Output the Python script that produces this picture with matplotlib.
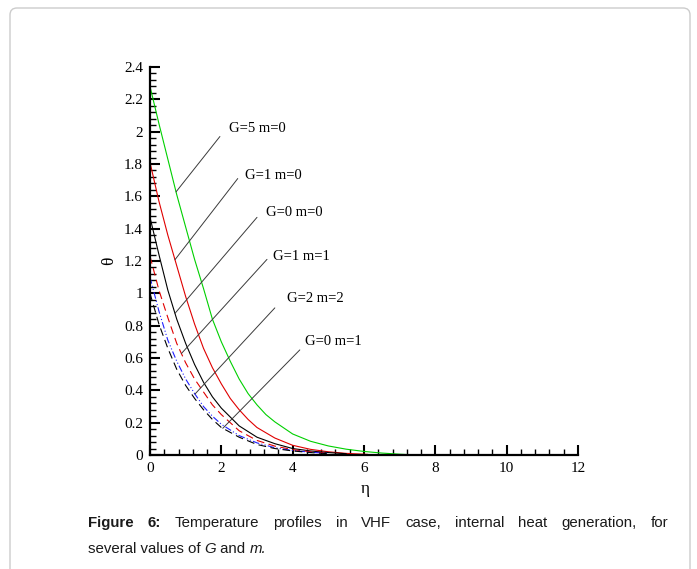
import numpy as np
import matplotlib
matplotlib.use('Agg')
import matplotlib.pyplot as plt
from matplotlib.ticker import MultipleLocator, FuncFormatter
from matplotlib.patches import FancyBboxPatch
from matplotlib.transforms import IdentityTransform

# values (eta, theta)
eta_g5m0 = [0, 0.25, 0.5, 0.75, 1, 1.25, 1.5, 1.75, 2, 2.25, 2.5, 2.75, 3, 3.25, 3.5, 4, 4.5, 5, 5.5, 6, 6.5, 7, 7.2]
theta_g5m0 = [2.28, 2.05, 1.83, 1.61, 1.41, 1.21, 1.03, 0.84, 0.70, 0.58, 0.47, 0.38, 0.31, 0.25, 0.205,
              0.13, 0.085, 0.056, 0.036, 0.022, 0.012, 0.005, 0.003]

eta_g1m0 = [0, 0.25, 0.5, 0.75, 1, 1.25, 1.5, 1.75, 2, 2.25, 2.5, 2.75, 3, 3.5, 4, 4.5, 5, 5.5, 6.1]
theta_g1m0 = [1.81, 1.57, 1.36, 1.17, 0.98, 0.81, 0.66, 0.54, 0.44, 0.35, 0.28, 0.22, 0.17, 0.105,
              0.06, 0.035, 0.02, 0.01, 0.004]

eta_g0m0 = [0, 0.25, 0.5, 0.75, 1, 1.25, 1.5, 1.75, 2, 2.5, 3, 3.5, 4, 4.5, 5, 5.5]
theta_g0m0 = [1.47, 1.24, 1.02, 0.84, 0.69, 0.56, 0.45, 0.36, 0.29, 0.18, 0.11, 0.07, 0.04, 0.025, 0.015, 0.008]

eta_g1m1 = [0, 0.25, 0.5, 0.75, 1, 1.25, 1.5, 1.75, 2, 2.5, 3, 3.5, 4, 4.5, 5]
theta_g1m1 = [1.23, 1.02, 0.85, 0.69, 0.57, 0.47, 0.39, 0.31, 0.25, 0.15, 0.09, 0.055, 0.033, 0.02, 0.012]

eta_g2m2 = [0, 0.25, 0.5, 0.75, 1, 1.25, 1.5, 1.75, 2, 2.5, 3, 3.5, 4, 4.5, 5]
theta_g2m2 = [1.10, 0.89, 0.71, 0.58, 0.47, 0.38, 0.30, 0.24, 0.19, 0.12, 0.075, 0.045, 0.028, 0.017, 0.01]

eta_g0m1 = [0, 0.25, 0.5, 0.75, 1, 1.25, 1.5, 1.75, 2, 2.5, 3, 3.5, 4, 4.5, 5]
theta_g0m1 = [1.00, 0.81, 0.66, 0.53, 0.43, 0.35, 0.28, 0.22, 0.17, 0.11, 0.065, 0.04, 0.025, 0.015, 0.008]

labels = ["G=5 m=0", "G=1 m=0", "G=0 m=0", "G=1 m=1", "G=2 m=2", "G=0 m=1"]

serif = "Liberation Serif"

fig = plt.figure(figsize=(6.97, 5.69), dpi=100)

# rounded frame around the figure
frame = FancyBboxPatch((10, -30), 680, 569 - 8 + 30, boxstyle="round,pad=0,rounding_size=7",
                       transform=IdentityTransform(), facecolor='none',
                       edgecolor='#cccccc', linewidth=1.0, zorder=-1)
fig.patches.append(frame)

ax = fig.add_axes([150 / 697, 1 - 455 / 569, 428 / 697, 388 / 569])
ax.set_facecolor('none')

curves = [
    (eta_g5m0, theta_g5m0, dict(color='#00d000', ls='-')),
    (eta_g1m0, theta_g1m0, dict(color='#e00000', ls='-')),
    (eta_g0m0, theta_g0m0, dict(color='black', ls='-')),
    (eta_g1m1, theta_g1m1, dict(color='#e00000', ls=(0, (7, 4)))),
    (eta_g2m2, theta_g2m2, dict(color='#2020ff', ls=(0, (6, 2, 1, 2, 1, 2)))),
    (eta_g0m1, theta_g0m1, dict(color='black', ls=(0, (7, 4)))),
]
for x, y, st in curves:
    ax.plot(x, y, lw=0.8, **st)

ax.set_xlim(0, 12)
ax.set_ylim(0, 2.4)
ax.spines['top'].set_visible(False)
ax.spines['right'].set_visible(False)
ax.spines['left'].set_linewidth(1.6)
ax.spines['bottom'].set_linewidth(1.6)
ax.xaxis.set_major_locator(MultipleLocator(2))
ax.xaxis.set_minor_locator(MultipleLocator(0.4))
ax.yaxis.set_major_locator(MultipleLocator(0.2))
ax.yaxis.set_minor_locator(MultipleLocator(0.04))
fmt = FuncFormatter(lambda v, p: f"{v:g}")
ax.xaxis.set_major_formatter(fmt)
ax.yaxis.set_major_formatter(fmt)
ax.tick_params(which='major', direction='in', length=7, width=1.5, labelsize=11, pad=5)
ax.tick_params(which='minor', direction='in', length=4, width=1.0)
for lab in ax.get_xticklabels() + ax.get_yticklabels():
    lab.set_fontfamily(serif)

ax.set_xlabel("η", fontfamily=serif, fontsize=12.5)
ax.set_ylabel("θ", fontfamily=serif, fontsize=12.5)
ax.xaxis.set_label_coords(0.502, -0.068)
ax.yaxis.set_label_coords(-0.077, 0.5)

# labels with leader lines
leader_at = [0.73, 0.70, 0.70, 0.88, 1.26, 2.04]
leader_from = [(1.96, 1.97), (2.46, 1.71), (3.0, 1.47), (3.28, 1.21), (3.5, 0.91), (4.2, 0.65)]
text_at = [(2.21, 2.02), (2.66, 1.73), (3.25, 1.50), (3.45, 1.23), (3.84, 0.965), (4.34, 0.70)]
for (x, y, st), lab, e, start, tpos in zip(curves, labels, leader_at, leader_from, text_at):
    end = (e, np.interp(e, x, y))
    ax.annotate('', xy=end, xytext=start,
                arrowprops=dict(arrowstyle='-', color='#3a3a3a', lw=0.7,
                                shrinkA=0, shrinkB=0))
    ax.text(tpos[0], tpos[1], lab, fontfamily=serif, fontsize=10.5, ha='left', va='center')

# caption (justified first line)
renderer = fig.canvas.get_renderer()
cap_left, cap_right = 88, 668
cap_size = 10.8
line1 = [("Figure", 'bold'), ("6:", 'bold'), ("Temperature", 'normal'), ("profiles", 'normal'),
         ("in", 'normal'), ("VHF", 'normal'), ("case,", 'normal'), ("internal", 'normal'),
         ("heat", 'normal'), ("generation,", 'normal'), ("for", 'normal')]
words = []
for w, wt in line1:
    t = fig.text(0, 1 - 523 / 569, w, fontfamily='Liberation Sans', fontweight=wt,
                 fontsize=cap_size, color='#1a1a1a', va='center', ha='left')
    words.append(t)
widths = [t.get_window_extent(renderer).width for t in words]
gap = (cap_right - cap_left - sum(widths)) / (len(words) - 1)
xpos = cap_left
for t, w in zip(words, widths):
    t.set_x(xpos / 697)
    xpos += w + gap

line2 = [("several values of ", 'normal'), ("G", 'italic'), (" and ", 'normal'), ("m.", 'italic')]
xpos = cap_left
for s, style in line2:
    t = fig.text(xpos / 697, 1 - 549 / 569, s, fontfamily='Liberation Sans', fontstyle=style,
                 fontsize=cap_size, color='#1a1a1a', va='center', ha='left')
    xpos += t.get_window_extent(renderer).width

fig.savefig('out.png', dpi=100, facecolor='white')
